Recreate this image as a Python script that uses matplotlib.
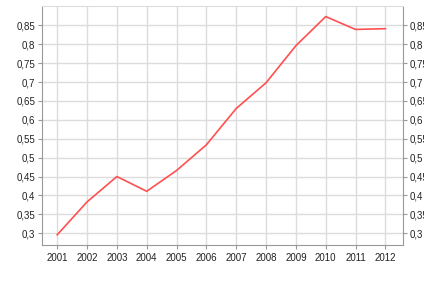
import matplotlib.pyplot as plt
from matplotlib.ticker import FuncFormatter

years = [2001, 2002, 2003, 2004, 2005, 2006, 2007, 2008, 2009, 2010, 2011, 2012]
values = [0.296, 0.383, 0.450, 0.411, 0.466, 0.534, 0.630, 0.698, 0.796, 0.873, 0.839, 0.841]
yticks = [0.3, 0.35, 0.4, 0.45, 0.5, 0.55, 0.6, 0.65, 0.7, 0.75, 0.8, 0.85]

plt.rcParams['font.family'] = ['Liberation Sans', 'DejaVu Sans']


def comma(v, pos):
    s = ('%.2f' % v).rstrip('0').rstrip('.')
    return s.replace('.', ',')


fig = plt.figure(figsize=(4.24, 2.85), dpi=100)
ax = fig.add_axes([42 / 424, 1 - 245 / 285, (402.7 - 42) / 424, (245 - 6) / 285])

ax.plot(years, values, color='#ff5050', lw=1.2)

ax.set_xlim(2000.49, 2012.58)
ax.set_ylim(0.269, 0.901)
ax.set_xticks(years)
ax.set_yticks(yticks)
ax.yaxis.set_major_formatter(FuncFormatter(comma))
ax.grid(True, color='#dcdcdc', lw=1)
ax.set_axisbelow(True)

for s in ['left', 'bottom', 'right']:
    ax.spines[s].set_color('#999999')
ax.spines['top'].set_color('#dcdcdc')

ax.tick_params(axis='both', labelsize=7, colors='#999999', labelcolor='#222222',
               length=3, width=0.8)
ax.tick_params(axis='y', right=True, labelright=True, pad=2)
ax.tick_params(axis='x', pad=3)

fig.savefig('out.png', dpi=100)
